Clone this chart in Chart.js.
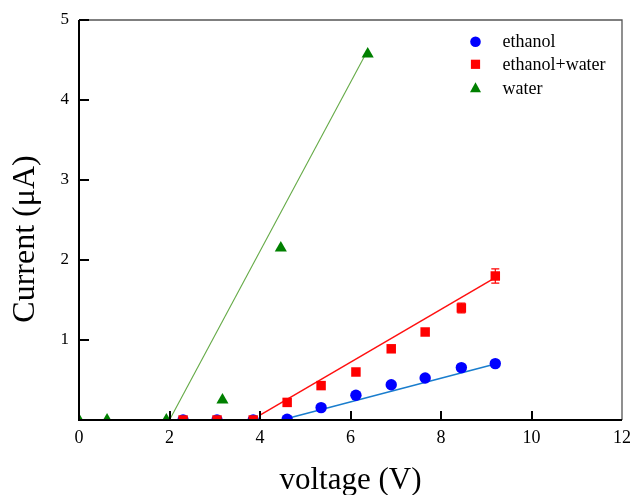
<!DOCTYPE html>
<html>
<head>
<meta charset="utf-8">
<script src="https://cdn.jsdelivr.net/npm/chart.js@4/dist/chart.umd.min.js"></script>
<style>
html,body{margin:0;padding:0;background:#fff;}
#wrap{width:633px;height:495px;}
</style>
</head>
<body>
<div id="wrap"><canvas id="c" width="633" height="495"></canvas></div>
<script>
// ---- data ----
const seriesNames = ['ethanol', 'ethanol+water', 'water'];
const voltEthanol = [2.3, 3.05, 3.85, 4.6, 5.35, 6.12, 6.9, 7.65, 8.45, 9.2];
const currEthanol = [0, 0, 0, 0.01, 0.155, 0.31, 0.44, 0.525, 0.655, 0.705];
const voltMix = [2.3, 3.05, 3.85, 4.6, 5.35, 6.12, 6.9, 7.65, 8.45, 9.2];
const currMix = [0, 0, 0, 0.22, 0.43, 0.60, 0.89, 1.10, 1.40, 1.80];
const errMix = [0, 0, 0, 0, 0, 0.02, 0, 0, 0.06, 0.09];
const voltWater = [0, 0.62, 1.93, 3.17, 4.46, 6.38];
const currWater = [0, 0, 0, 0.25, 2.15, 4.575];
// fitted lines (end points)
const fitEthanolX = [4.6, 9.2];
const fitEthanolY = [0.02, 0.70];
const fitMixX = [4.0, 9.2];
const fitMixY = [0.06, 1.78];
const fitWaterX = [2.0, 6.36];
const fitWaterY = [0, 4.6];
// axes
const xTicks = [0, 2, 4, 6, 8, 10, 12];
const yTicks = [1, 2, 3, 4, 5];
const xTitle = 'voltage (V)';
const yTitle = 'Current (\u03bcA)';

const pts = (xs, ys) => xs.map((x, i) => ({x: x, y: ys[i]}));
const SERIF = "'Liberation Serif', 'Times New Roman', serif";

const colBlue = '#0000ff', colRed = '#ff0000', colGreen = '#008000';

const framePlugin = {
  id: 'frame',
  afterDatasetsDraw(chart) {
    const {ctx, chartArea: a, scales: {x, y}} = chart;
    ctx.save();
    // error bars
    ctx.strokeStyle = colRed; ctx.lineWidth = 1.2;
    errMix.forEach((e, i) => {
      if (!e) return;
      const px = x.getPixelForValue(voltMix[i]);
      const y1 = y.getPixelForValue(currMix[i] + e), y2 = y.getPixelForValue(currMix[i] - e);
      ctx.beginPath();
      ctx.moveTo(px, y1); ctx.lineTo(px, y2);
      ctx.moveTo(px - 4, y1); ctx.lineTo(px + 4, y1);
      ctx.moveTo(px - 4, y2); ctx.lineTo(px + 4, y2);
      ctx.stroke();
    });
    // top/right frame
    ctx.strokeStyle = '#555'; ctx.lineWidth = 1.3;
    ctx.beginPath();
    ctx.moveTo(a.left, a.top); ctx.lineTo(a.right, a.top); ctx.lineTo(a.right, a.bottom);
    ctx.stroke();
    // left/bottom axes
    ctx.strokeStyle = '#000'; ctx.lineWidth = 2;
    ctx.beginPath();
    ctx.moveTo(a.left, a.top); ctx.lineTo(a.left, a.bottom); ctx.lineTo(a.right, a.bottom);
    ctx.stroke();
    // inward ticks
    ctx.lineWidth = 2;
    ctx.beginPath();
    xTicks.forEach(v => {
      if (v === 0 || v === 12) return;
      const px = Math.round(x.getPixelForValue(v));
      ctx.moveTo(px, a.bottom); ctx.lineTo(px, a.bottom - 9);
    });
    yTicks.forEach(v => {
      const py = Math.round(y.getPixelForValue(v));
      ctx.moveTo(a.left, py); ctx.lineTo(a.left + 10, py);
    });
    ctx.stroke();
    // x title
    ctx.fillStyle = '#000';
    ctx.font = '31px ' + SERIF;
    ctx.textAlign = 'center'; ctx.textBaseline = 'alphabetic';
    ctx.fillText(xTitle, (a.left + a.right) / 2, 489);
    // y title
    ctx.font = '32px ' + SERIF;
    ctx.translate(34, 239);
    ctx.rotate(-Math.PI / 2);
    ctx.fillText(yTitle, 0, 0);
    ctx.restore();

    // legend
    ctx.save();
    const lx = 475.5, ly = [41.7, 64.3, 88.3];
    ctx.fillStyle = colBlue;
    ctx.beginPath(); ctx.arc(lx, ly[0], 5.3, 0, Math.PI * 2); ctx.fill();
    ctx.fillStyle = colRed;
    ctx.fillRect(lx - 4.6, ly[1] - 4.6, 9.2, 9.2);
    ctx.fillStyle = colGreen;
    ctx.beginPath();
    ctx.moveTo(lx, ly[2] - 6); ctx.lineTo(lx + 5.5, ly[2] + 4); ctx.lineTo(lx - 5.5, ly[2] + 4); ctx.closePath(); ctx.fill();
    ctx.fillStyle = '#000';
    ctx.font = '18px ' + SERIF;
    ctx.textAlign = 'left'; ctx.textBaseline = 'middle';
    seriesNames.forEach((n, i) => ctx.fillText(n, 502.5, ly[i] + 1));
    ctx.restore();
  }
};

new Chart(document.getElementById('c'), {
  type: 'scatter',
  data: {
    datasets: [
      {label: seriesNames[1], data: pts(voltMix, currMix), pointStyle: 'rect', pointRadius: 6.7,
       backgroundColor: colRed, borderColor: colRed, borderWidth: 0, clip: 0},
      {label: seriesNames[0], data: pts(voltEthanol, currEthanol), pointStyle: 'circle', pointRadius: 5.7,
       backgroundColor: colBlue, borderColor: colBlue, borderWidth: 0, clip: 0},
      {label: seriesNames[2], data: pts(voltWater, currWater), pointStyle: 'triangle', pointRadius: 7,
       backgroundColor: colGreen, borderColor: colGreen, borderWidth: 0, clip: 0},
      {label: 'fit mix', data: pts(fitMixX, fitMixY), showLine: true, pointRadius: 0,
       borderColor: '#ff1010', borderWidth: 1.5, clip: 0},
      {label: 'fit ethanol', data: pts(fitEthanolX, fitEthanolY), showLine: true, pointRadius: 0,
       borderColor: 'rgb(25,125,205)', borderWidth: 1.5, clip: 0},
      {label: 'fit water', data: pts(fitWaterX, fitWaterY), showLine: true, pointRadius: 0,
       borderColor: 'rgb(100,170,70)', borderWidth: 1.1, clip: 0}
    ]
  },
  options: {
    responsive: false,
    animation: false,
    layout: {padding: {top: 20, right: 11, left: 0, bottom: 0}},
    plugins: {legend: {display: false}, tooltip: {enabled: false}},
    scales: {
      x: {
        type: 'linear', min: 0, max: 12,
        afterBuildTicks: s => { s.ticks = xTicks.map(v => ({value: v})); },
        afterFit: s => { s.height = 75; s.paddingLeft = 0; s.paddingRight = 0; },
        grid: {display: false, drawTicks: false},
        border: {display: false},
        ticks: {padding: 7, color: '#000', font: {family: SERIF, size: 18}, maxRotation: 0},
        title: {display: false}
      },
      y: {
        type: 'linear', min: 0, max: 5,
        afterBuildTicks: s => { s.ticks = yTicks.map(v => ({value: v})); },
        afterFit: s => { s.width = 79; s.paddingTop = 0; s.paddingBottom = 0; },
        grid: {display: false, drawTicks: false},
        border: {display: false},
        ticks: {padding: 10, color: '#000', font: {family: SERIF, size: 17}},
        title: {display: false}
      }
    }
  },
  plugins: [framePlugin]
});
</script>
</body>
</html>
